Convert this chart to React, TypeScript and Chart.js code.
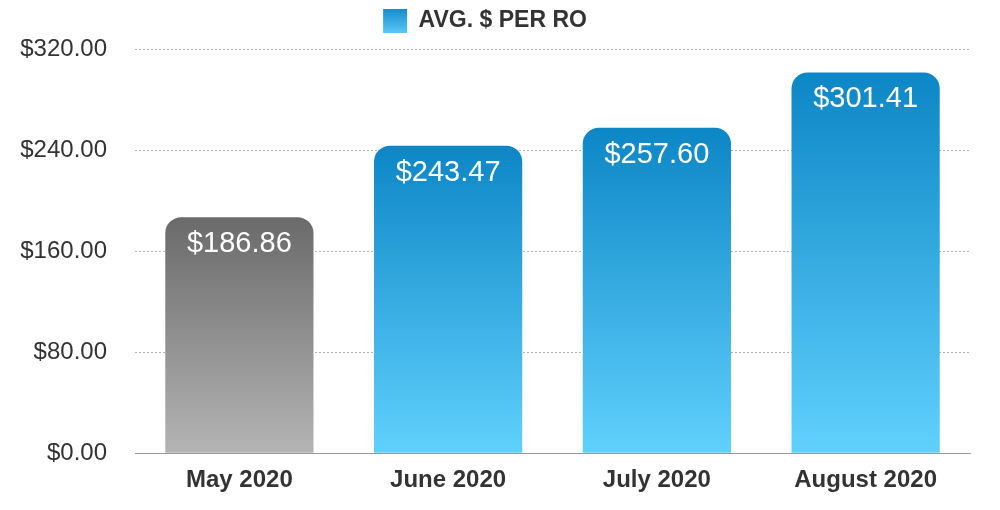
import React, { useEffect, useRef } from "react";
import { Chart, registerables } from "chart.js";

Chart.register(...registerables);

const categories = ["May 2020", "June 2020", "July 2020", "August 2020"];
const avgPerRO = [186.86, 243.47, 257.6, 301.41];
const seriesLabel = "AVG. $ PER RO";
const yTicks = [0, 80, 160, 240, 320];

const FONT = "'Liberation Sans', Helvetica, Arial, sans-serif";

const fmt = (v: number) => "$" + v.toFixed(2);

const dataLabelPlugin = {
  id: "dataLabels",
  afterDatasetsDraw(chart: any) {
    const ctx = chart.ctx;
    const meta = chart.getDatasetMeta(0);
    ctx.save();
    ctx.fillStyle = "#ffffff";
    ctx.font = `29px ${FONT}`;
    ctx.textAlign = "center";
    ctx.textBaseline = "middle";
    meta.data.forEach((el: any, i: number) => {
      ctx.fillText(fmt(avgPerRO[i]), el.x, el.y + 27);
    });
    ctx.restore();
  },
};

const legendSpacer = {
  id: "legendSpacer",
  beforeInit(chart: any) {
    const lg = chart.legend;
    if (!lg) return;
    const orig = lg.fit;
    lg.fit = function () {
      orig.call(this);
      this.height += 6;
    };
  },
};

export default function App() {
  const ref = useRef<HTMLCanvasElement | null>(null);

  useEffect(() => {
    if (!ref.current) return;
    const chart = new Chart(ref.current, {
      type: "bar",
      data: {
        labels: categories,
        datasets: [
          {
            label: seriesLabel,
            data: avgPerRO,
            backgroundColor: (c: any) => {
              const ch = c.chart;
              const gray = c.dataIndex === 0;
              if (!ch.chartArea || c.raw === undefined) return gray ? "#8a8a8a" : "#2fa6e0";
              const ys = ch.scales.y;
              const top = ys.getPixelForValue(c.raw);
              const bottom = ys.getPixelForValue(0);
              const g = ch.ctx.createLinearGradient(0, top, 0, bottom);
              if (gray) {
                g.addColorStop(0, "#6a6a6a");
                g.addColorStop(1, "#b4b4b4");
              } else {
                g.addColorStop(0, "#0d86c6");
                g.addColorStop(1, "#60d1fd");
              }
              return g;
            },
            borderWidth: 0,
            borderRadius: 16,
            borderSkipped: "bottom",
            barPercentage: 0.71,
            categoryPercentage: 1,
          },
        ],
      },
      options: {
        responsive: false,
        animation: false,
        layout: { padding: { left: 0, right: 30, top: 1, bottom: 2 } },
        plugins: {
          tooltip: { enabled: false },
          legend: {
            display: true,
            position: "top",
            labels: {
              boxWidth: 24,
              boxHeight: 24,
              padding: 8,
              color: "#333333",
              font: { family: FONT, size: 23, weight: "bold" },
              generateLabels: (ch: any) => {
                const g = ch.ctx.createLinearGradient(0, 8, 0, 32);
                g.addColorStop(0, "#1688cb");
                g.addColorStop(1, "#55c6f5");
                return [
                  {
                    text: seriesLabel,
                    fillStyle: g,
                    strokeStyle: "rgba(0,0,0,0)",
                    lineWidth: 0,
                    hidden: false,
                    datasetIndex: 0,
                    fontColor: "#333333",
                  },
                ];
              },
            },
          },
        },
        scales: {
          x: {
            grid: { display: false, drawTicks: false },
            border: { display: true, color: "#9a9a9a", width: 1 },
            ticks: {
              color: "#333333",
              padding: 13,
              font: { family: FONT, size: 24, weight: "bold" },
            },
          },
          y: {
            min: 0,
            max: 320,
            afterBuildTicks: (s: any) => {
              s.ticks = yTicks.map((v) => ({ value: v }));
            },
            grid: { color: "#b0b0b0", lineWidth: 1, drawTicks: false },
            border: { display: false, dash: [2, 2] },
            ticks: {
              color: "#333333",
              padding: 28,
              font: { family: FONT, size: 24 },
              callback: (v: any) => fmt(Number(v)),
            },
            afterFit: (s: any) => {
              s.width = 135;
            },
          },
        },
      },
      plugins: [legendSpacer, dataLabelPlugin],
    } as any);
    return () => chart.destroy();
  }, []);

  return (
    <div style={{ position: "fixed", left: 0, top: 0, width: 1000, height: 510, background: "#fff" }}>
      <canvas ref={ref} width={1000} height={510} style={{ width: 1000, height: 510, display: "block" }} />
    </div>
  );
}
